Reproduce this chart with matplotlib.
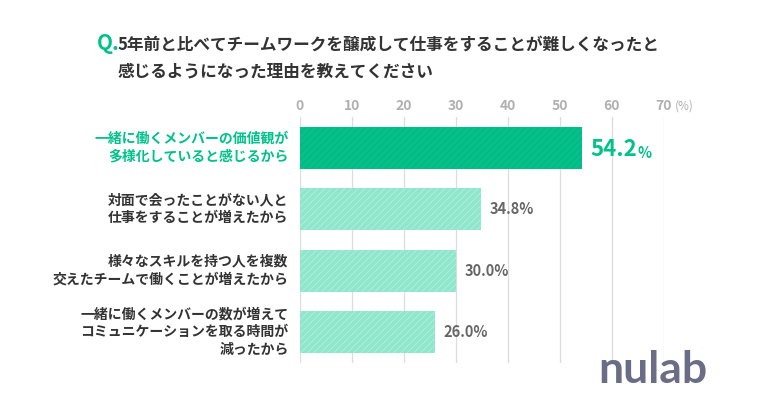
import matplotlib
matplotlib.use("Agg")
import matplotlib.pyplot as plt

plt.rcParams["font.family"] = ["Noto Sans CJK JP", "DejaVu Sans"]
plt.rcParams["hatch.linewidth"] = 0.6

categories = [
    "一緒に働くメンバーの価値観が\n多様化していると感じるから",
    "対面で会ったことがない人と\n仕事をすることが増えたから",
    "様々なスキルを持つ人を複数\n交えたチームで働くことが増えたから",
    "一緒に働くメンバーの数が増えて\nコミュニケーションを取る時間が\n減ったから",
]
values = [54.2, 34.8, 30.0, 26.0]
ticks = [0, 10, 20, 30, 40, 50, 60, 70]

GREEN = "#00C28A"
MINT = "#8EE6CB"
GRAY = "#666666"

fig = plt.figure(figsize=(7.62, 4.0), dpi=100)
fig.patch.set_facecolor("white")
ax = fig.add_axes((300 / 762, 1 - 363 / 400, 364 / 762, 246 / 400))

for i, v in enumerate(values):
    top = i == 0
    ax.barh(i, v, height=0.68, color=GREEN if top else MINT,
            edgecolor="#14AD7E" if top else "#B4F0DD", linewidth=0,
            hatch="/////", zorder=3)

ax.set_xlim(0, 70)
ax.set_ylim(len(values) - 0.5, -0.5)
ax.set_xticks(ticks)
ax.xaxis.tick_top()
ax.set_xticklabels([str(t) for t in ticks], color="#B0B0B0", fontsize=10,
                   fontweight="bold")
ax.tick_params(axis="x", length=0, pad=3)
ax.set_yticks([])
ax.grid(axis="x", color="#DDDDDD", linewidth=0.9, zorder=0)
for s in ax.spines.values():
    s.set_visible(False)
ax.annotate("(%)", xy=(70, 1), xycoords=("data", "axes fraction"),
            xytext=(8, 3), textcoords="offset points", fontsize=8.5,
            color="#B0B0B0", ha="left", va="bottom")

for i, (cat, v) in enumerate(zip(categories, values)):
    ax.text(-2.2, i, cat, ha="right", va="center", fontsize=10, fontweight="bold",
            color=GREEN if i == 0 else "#333333", linespacing=1.35)
    if i == 0:
        t = ax.text(v + 1.6, i + 0.03, f"{v:.1f}", ha="left", va="center",
                    fontsize=16, fontweight="bold", color=GREEN)
        fig.canvas.draw()
        bb = t.get_window_extent().transformed(ax.transData.inverted())
        ax.text(bb.x1 + 0.2, i + 0.08, "%", ha="left", va="center",
                fontsize=10.5, fontweight="bold", color=GREEN)
    else:
        ax.text(v + 1.6, i, f"{v:.1f}%", ha="left", va="center",
                fontsize=10.5, fontweight="bold", color=GRAY)

# title
fig.text(97 / 762, 1 - 44 / 400, "Q.", fontsize=15, fontweight="bold",
         color=GREEN, ha="left", va="center")
fig.text(118 / 762, 1 - 45 / 400,
         "5年前と比べてチームワークを醸成して仕事をすることが難しくなったと",
         fontsize=12, fontweight="bold", color="#333333", ha="left", va="center")
fig.text(118 / 762, 1 - 72 / 400, "感じるようになった理由を教えてください",
         fontsize=12, fontweight="bold", color="#333333", ha="left", va="center")

# logo
fig.text(653 / 762, 1 - 370 / 400, "nulab", fontsize=32,
         color="#6B6C86", ha="center", va="center",
         family=["Lato", "DejaVu Sans"], fontweight="bold")

fig.savefig("out.png", dpi=100, facecolor="white")
